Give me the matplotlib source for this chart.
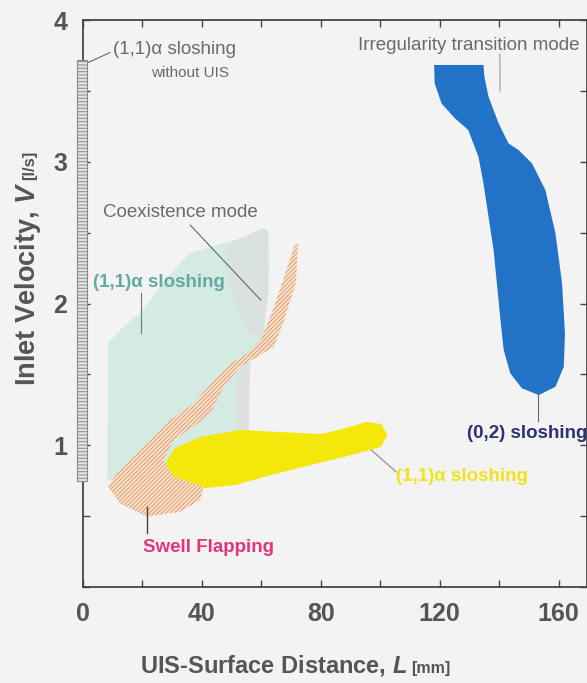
import numpy as np
import matplotlib.pyplot as plt
from matplotlib.patches import Polygon, Rectangle

plt.rcParams['font.family'] = ['Liberation Sans', 'DejaVu Sans']
plt.rcParams['mathtext.fontset'] = 'custom'
plt.rcParams['mathtext.it'] = 'Liberation Sans:italic:bold'
plt.rcParams['hatch.linewidth'] = 0.7

# regime boundaries (L [mm], V [l/s])
blue_L = [118.1, 134.7, 135.0, 136.4, 139.8, 143.1, 146.5, 151.0, 155.5, 158.9, 161.1,
          162.1, 161.7, 158.9, 153.3, 147.6, 143.7, 141.5, 140.3, 139.2, 138.1, 136.4,
          134.7, 133.0, 129.6, 125.1, 120.6, 118.3]
blue_V = [3.683, 3.683, 3.600, 3.459, 3.271, 3.130, 3.083, 2.989, 2.801, 2.495, 2.143,
          1.790, 1.554, 1.413, 1.354, 1.402, 1.508, 1.672, 1.907, 2.143, 2.377, 2.612,
          2.848, 3.036, 3.224, 3.307, 3.412, 3.553]

yel_L = [27.7, 31.1, 39.5, 53.0, 66.6, 80.1, 88.5, 95.3, 100.3, 102.4, 100.3, 90.2,
         76.7, 63.2, 51.4, 41.2, 32.8, 28.4]
yel_V = [0.875, 0.981, 1.058, 1.108, 1.093, 1.079, 1.122, 1.164, 1.150, 1.072, 0.988,
         0.931, 0.861, 0.790, 0.720, 0.698, 0.720, 0.790]

swell_L = [72.4, 71.6, 67.7, 64.3, 58.7, 53.0, 47.4, 42.9, 37.3, 30.5, 27.1, 30.5, 40.6,
           39.5, 32.8, 21.5, 12.5, 8.5, 11.4, 21.5, 29.4, 37.3, 44.0, 49.7, 55.3, 59.8,
           64.3, 67.7, 71.0]
swell_V = [2.425, 2.143, 1.884, 1.695, 1.625, 1.554, 1.413, 1.225, 1.131, 1.037, 0.896,
           0.778, 0.708, 0.614, 0.531, 0.496, 0.590, 0.708, 0.802, 1.014, 1.178, 1.296,
           1.460, 1.578, 1.649, 1.743, 1.977, 2.189, 2.401]

cyan_L = [8.5, 13.5, 20.3, 28.4, 36.1, 47.3, 55.4, 60.8, 62.2, 62.5, 61.5, 60.5,
          56.4, 55.7, 49.7, 27.7, 12.5, 8.3]
cyan_V = [1.719, 1.834, 1.954, 2.187, 2.356, 2.427, 2.470, 2.519, 2.504, 2.260,
          2.025, 1.743, 1.601, 1.108, 1.079, 0.882, 0.741, 0.755]

coex_L = [48.0, 60.8, 62.5, 62.5, 60.5, 54.7, 49.7]
coex_V = [2.413, 2.533, 2.504, 2.095, 1.743, 1.813, 2.095]
coex2_L = [51.7, 56.1, 55.7, 51.7]
coex2_V = [1.566, 1.601, 1.093, 1.093]

no_uis_L = [-1.8, 1.4]
no_uis_V = [0.75, 3.72]

xticks = [0, 40, 80, 120, 160]
yticks = [1, 2, 3, 4]

bg = '#f3f3f3'
grey = '#555555'
fig = plt.figure(figsize=(5.87, 6.83), dpi=100, facecolor=bg)
ax = fig.add_axes([0.141, 0.1406, 0.859, 0.830])
ax.set_facecolor(bg)

ax.add_patch(Polygon(np.c_[cyan_L, cyan_V], closed=True, fc='#d3ebe3', ec='none'))
ax.add_patch(Polygon(np.c_[coex_L, coex_V], closed=True, fc='#d9e2df', ec='none'))
ax.add_patch(Polygon(np.c_[coex2_L, coex2_V], closed=True, fc='#dde1df', ec='none'))
ax.add_patch(Polygon(np.c_[yel_L, yel_V], closed=True, fc='#f4e80a', ec='none'))
ax.add_patch(Polygon(np.c_[swell_L, swell_V], closed=True, fc='#fae3cf',
                     ec='#dc9a6a', lw=0, hatch='////////'))
ax.add_patch(Polygon(np.c_[blue_L, blue_V], closed=True, fc='#2272c8', ec='none'))
ax.add_patch(Rectangle((no_uis_L[0], no_uis_V[0]), no_uis_L[1] - no_uis_L[0],
                       no_uis_V[1] - no_uis_V[0], fc='#e4e4e4', ec='#8a8a8a', lw=0.8,
                       hatch='-----', clip_on=False, zorder=3))

ax.set_xlim(0, 169.5)
ax.set_ylim(0, 4)
ax.set_xticks(np.arange(0, 170, 20))
ax.set_xticklabels([str(v) if v in xticks else '' for v in range(0, 170, 20)])
ax.set_yticks(np.arange(0, 4.01, 0.5))
ax.set_yticklabels(['%g' % v if v in yticks else '' for v in np.arange(0, 4.01, 0.5)])
ax.tick_params(direction='in', length=5, width=1, color='#444444', top=True, right=True,
               labelsize=18, labelcolor=grey, pad=11)
for lab in ax.get_xticklabels() + ax.get_yticklabels():
    lab.set_fontweight('bold')
for s in ax.spines.values():
    s.set_color('#444444')
    s.set_linewidth(1.3)

tc = '#6a6a6a'
fs = 13.5
ax.text(30.7, 3.79, '(1,1)α sloshing', fontsize=fs, color=tc, ha='center', va='center')
ax.text(36.1, 3.63, 'without UIS', fontsize=11, color=tc, ha='center', va='center')
ax.plot([1.7, 9.1], [3.70, 3.77], color=tc, lw=0.8)

ax.text(129.7, 3.82, 'Irregularity transition mode', fontsize=fs, color=tc,
        ha='center', va='center')
ax.plot([140.2, 140.3], [3.76, 3.50], color='#999999', lw=0.8)

ax.text(32.8, 2.64, 'Coexistence mode', fontsize=fs, color=tc, ha='center', va='center')
ax.plot([36.1, 59.8], [2.554, 2.025], color='#666666', lw=0.8)

ax.text(25.7, 2.15, '(1,1)α sloshing', fontsize=fs, color='#62aaa2', weight='bold',
        ha='center', va='center')
ax.plot([19.6, 19.6], [2.074, 1.79], color='#777777', lw=0.8)

ax.text(149.3, 1.086, '(0,2) sloshing', fontsize=fs, color='#2d3270', weight='bold',
        ha='center', va='center')
ax.plot([153, 153], [1.36, 1.17], color='#666666', lw=0.8)

ax.text(127.4, 0.776, '(1,1)α sloshing', fontsize=fs, color='#efe31a', weight='bold',
        ha='center', va='center')
ax.plot([97, 105.4], [0.966, 0.811], color='#888888', lw=0.8)

ax.text(42.2, 0.275, 'Swell Flapping', fontsize=fs, color='#e2357c', weight='bold',
        ha='center', va='center')
ax.plot([21.6, 21.6], [0.564, 0.381], color='#444444', lw=1)

fig.text(0.048, 0.435, r'Inlet Velocity, $\it{V}$', rotation=90, fontsize=19.5,
         weight='bold', color=grey, ha='center', va='bottom')
fig.text(0.050, 0.736, '[l/s]', rotation=90, fontsize=12, weight='bold', color=grey,
         ha='center', va='bottom')
fig.text(0.239, 0.025, r'UIS-Surface Distance, $\it{L}$', fontsize=17, weight='bold',
         color=grey, ha='left', va='center')
fig.text(0.70, 0.021, '[mm]', fontsize=11.5, weight='bold', color=grey, ha='left',
         va='center')

fig.savefig('out.png', dpi=100, facecolor=bg)
